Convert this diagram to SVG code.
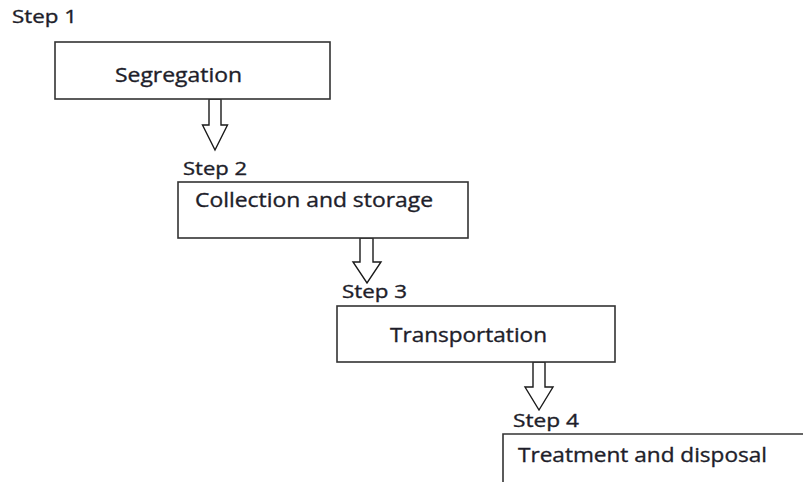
<svg xmlns="http://www.w3.org/2000/svg" width="803" height="482" viewBox="0 0 803 482">
  <style>
    .box { fill: #ffffff; stroke: #333333; stroke-width: 1.6; }
    .arrow { fill: #ffffff; stroke: #1a1a1a; stroke-width: 1.4; stroke-linejoin: miter; }
    .label { font-family: "Open Sans", "Liberation Sans", sans-serif; fill: #1e1e2a; stroke: #1e1e2a; stroke-width: 0.35; }
    .step { font-size: 17.5px; }
    .name { font-size: 19.5px; }
  </style>
  <rect width="803" height="482" fill="#ffffff"/>

  <!-- block arrows between steps -->
  <g id="connectors">
    <polygon class="arrow" points="209,99 221,99 221,125 227.5,125 215,150 202.5,125 209,125"/>
    <polygon class="arrow" points="360,238 373,238 373,262 381,262 367,283 353,262 360,262"/>
    <polygon class="arrow" points="533,362 545,362 545,387 553,387 539,410 525,387 533,387"/>
  </g>

  <g id="step1">
    <text class="label step" x="12" y="23" textLength="65" lengthAdjust="spacingAndGlyphs">Step 1</text>
    <rect class="box" x="55" y="42" width="275" height="57"/>
    <text class="label name" x="115" y="82" textLength="127" lengthAdjust="spacingAndGlyphs">Segregation</text>
  </g>

  <g id="step2">
    <text class="label step" x="183" y="175" textLength="64" lengthAdjust="spacingAndGlyphs">Step 2</text>
    <rect class="box" x="178" y="182" width="290" height="56"/>
    <text class="label name" x="195" y="207" textLength="238" lengthAdjust="spacingAndGlyphs">Collection and storage</text>
  </g>

  <g id="step3">
    <text class="label step" x="342" y="298" textLength="65" lengthAdjust="spacingAndGlyphs">Step 3</text>
    <rect class="box" x="337" y="306" width="278" height="56"/>
    <text class="label name" x="390" y="342" textLength="157" lengthAdjust="spacingAndGlyphs">Transportation</text>
  </g>

  <g id="step4">
    <text class="label step" x="513" y="427" textLength="66" lengthAdjust="spacingAndGlyphs">Step 4</text>
    <path class="box" d="M503,490 L503,434 L810,434"/>
    <text class="label name" x="518" y="462" textLength="249" lengthAdjust="spacingAndGlyphs">Treatment and disposal</text>
  </g>
</svg>
